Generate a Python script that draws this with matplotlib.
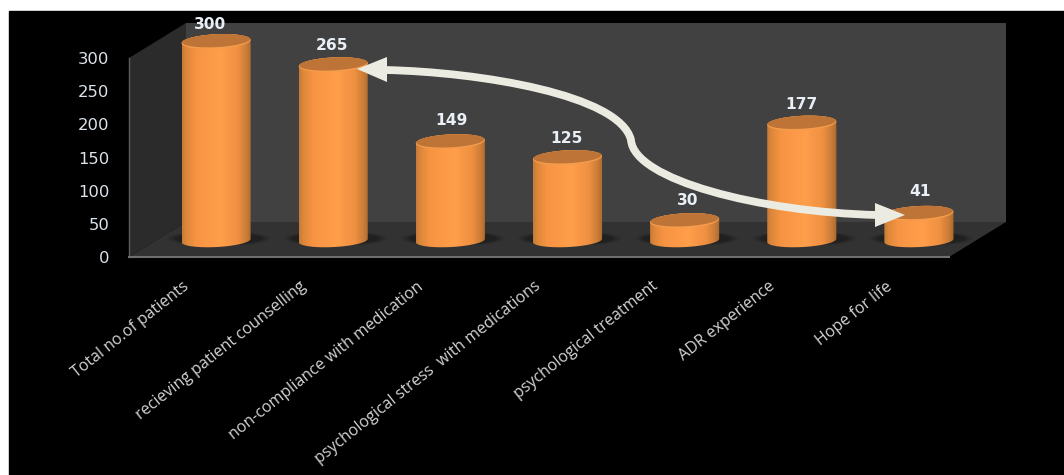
import numpy as np
import matplotlib
matplotlib.use('Agg')
import matplotlib.pyplot as plt
from matplotlib.colors import LinearSegmentedColormap
from matplotlib.patches import Ellipse, PathPatch, Polygon, Rectangle
from matplotlib.path import Path
from matplotlib.transforms import ScaledTranslation

categories = ['Total no.of patients', 'recieving patient counselling',
              'non-compliance with medication', 'psychological stress  with medications',
              'psychological treatment', 'ADR experience', 'Hope for life']
values = [300, 265, 149, 125, 30, 177, 41]
y_ticks = [0, 50, 100, 150, 200, 250, 300]

# small hand nudges for the value labels, in points
label_dx = [-4, -1, 1, -1, 2, 0, 1]
label_dy = [12.5, 13.5, 15, 14, 14.5, 13.5, 15.5]

W, H = 1064, 475
fig = plt.figure(figsize=(W / 100, H / 100), dpi=100, facecolor='white')

# pixel-space layer for the black panel and the 3D box
bg = fig.add_axes([0, 0, 1, 1], zorder=0)
bg.set_xlim(0, W)
bg.set_ylim(H, 0)
bg.axis('off')
bg.add_patch(Rectangle((9, 11), W - 9, H - 11, color='black'))
bg.add_patch(Polygon([(186, 23), (1006, 23), (1006, 222), (186, 222)], color='#414141', lw=0))
bg.add_patch(Polygon([(129, 58), (186, 23), (186, 222), (129, 257)], color='#2b2b2b', lw=0))
bg.add_patch(Polygon([(129, 257), (186, 222), (1006, 222), (949, 257)], color='#323232', lw=0))

# data axes sit on the front edge of the box
ax = fig.add_axes([129 / W, (H - 257) / H, 820 / W, 199 / H], zorder=1)
ax.patch.set_alpha(0)

# bars stand in the middle of the box depth
shifted = ax.transData + ScaledTranslation(28.5 / 100, 16.5 / 100, fig.dpi_scale_trans)

bar_w = 0.295      # half width in category units
cap_h = 11.0       # half height of the ellipse in value units
tilt = 2.5         # the ellipses lean up to the right

body_cmap = LinearSegmentedColormap.from_list('body', [
    (0.0, '#c67a38'), (0.06, '#dc8739'), (0.2, '#f79444'), (0.55, '#ff9e4b'),
    (0.8, '#ef9041'), (0.93, '#c97c38'), (1.0, '#a9672e')])
gradient = np.linspace(0, 1, 256).reshape(1, -1)


def ellipse_points(cx, cy, a, b, t0=0.0, t1=2 * np.pi, n=80):
    t = np.linspace(t0, t1, n)
    return np.column_stack([cx + a * np.cos(t), cy + b * np.sin(t) + tilt * np.cos(t)])


for i, v in enumerate(values):
    # soft shadow on the floor
    for k, alpha in zip([1.0, 0.85, 0.7, 0.55], [0.05, 0.08, 0.10, 0.14]):
        ax.add_patch(Ellipse((i + 0.02, 3), 2 * bar_w * (1 + 0.5 * k), 2 * cap_h * (0.55 + 0.5 * k),
                             color='black', alpha=alpha, lw=0, transform=shifted,
                             clip_on=False, zorder=2))

    # cylinder body: front half of the base ellipse closed up to the value
    lower = ellipse_points(i, 0, bar_w, cap_h * 0.9, np.pi, 2 * np.pi)
    upper = ellipse_points(i, v, bar_w, cap_h, 0, np.pi)
    outline = Path(np.vstack([lower, upper, lower[:1]]), closed=True)
    im = ax.imshow(gradient, cmap=body_cmap, aspect='auto', transform=shifted, zorder=3,
                   extent=[i - bar_w, i + bar_w, -cap_h - tilt, v + cap_h + tilt])
    im.set_clip_box(fig.bbox)
    im.set_clip_path(outline, transform=shifted)

    # lit rim, then the darker lid
    ax.add_patch(Polygon(ellipse_points(i, v, bar_w, cap_h), closed=True, color='#f59b4c', lw=0,
                         transform=shifted, clip_on=False, zorder=4))
    ax.add_patch(Polygon(ellipse_points(i, v + 1.2, bar_w * 0.985, cap_h * 0.88), closed=True,
                         color='#bd7436', lw=0, transform=shifted, clip_on=False, zorder=5))

    ax.annotate(str(v), (i, v), xycoords=shifted, xytext=(label_dx[i], label_dy[i]),
                textcoords='offset points', ha='center', va='center', color='#e9eff6',
                fontsize=11.2, fontweight='bold', zorder=6, annotation_clip=False)

ax.set_xlim(-0.5, len(values) - 0.5)
ax.set_ylim(0, 300)
ax.set_yticks(y_ticks)
ax.set_xticks(range(len(categories)))
ax.set_xticklabels(categories, rotation=38.5, ha='right', va='center', rotation_mode='anchor',
                   fontfamily='Open Sans', fontsize=11.5, color='#d4d4d4')
ax.tick_params(axis='x', length=0, pad=20)
ax.tick_params(axis='y', length=0, pad=14, labelsize=11.8, labelcolor='#dde3ea')
for side in ['top', 'right']:
    ax.spines[side].set_visible(False)
ax.spines['left'].set_color('#5c5c5c')
ax.spines['left'].set_linewidth(1)
ax.spines['bottom'].set_color('#707070')
ax.spines['bottom'].set_linewidth(1.5)

# the double headed curved arrow goes over everything
top = fig.add_axes([0, 0, 1, 1], zorder=2)
top.set_xlim(0, W)
top.set_ylim(H, 0)
top.axis('off')
arrow_color = '#ecebe1'
curve = Path([(385, 70), (480, 72), (620, 95), (631, 140), (634, 180), (760, 212), (877, 215)],
             [Path.MOVETO, Path.CURVE4, Path.CURVE4, Path.CURVE4, Path.CURVE4, Path.CURVE4, Path.CURVE4])
top.add_patch(PathPatch(curve, fc='none', ec=arrow_color, lw=5.6, capstyle='butt'))
top.add_patch(Polygon([(357, 69), (387, 57), (387, 82)], color=arrow_color, lw=0))
top.add_patch(Polygon([(905, 215), (875, 203), (875, 227)], color=arrow_color, lw=0))

fig.savefig('out.png', dpi=100)
